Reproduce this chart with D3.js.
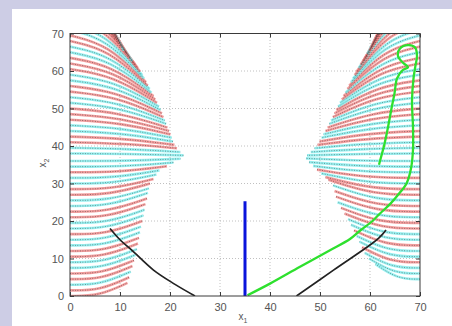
<!DOCTYPE html>
<html>
<head>
<meta charset="utf-8">
<script src="https://cdn.jsdelivr.net/npm/d3@7"></script>
<style>
  html, body { margin: 0; padding: 0; background: #cdcde5; }
  svg { display: block; }
</style>
</head>
<body>
<div id="chart"></div>
<script>
const xTicks = [0, 10, 20, 30, 40, 50, 60, 70];
const yTicks = [0, 10, 20, 30, 40, 50, 60, 70];

// each row: [start height on the axis, end x, end y, set]
const leftUpper = [
  [38, 22.7, 37.5, 'c'], [39.5, 22.05, 38.4, 'c'], [41, 21.4, 39.4, 'r'], [42.5, 20.9, 40.3, 'r'],
  [44, 20.6, 41.2, 'c'], [45.5, 20.35, 42.2, 'c'], [47, 20.1, 43.1, 'r'], [48.5, 19.8, 44.0, 'r'],
  [50, 19.5, 44.9, 'r'], [51.5, 19.25, 45.9, 'c'], [53, 18.95, 46.8, 'c'], [54.5, 18.7, 47.7, 'r'],
  [56, 18.4, 48.7, 'r'], [57.5, 18.1, 49.6, 'c'], [59, 17.8, 50.5, 'c'], [60.5, 17.4, 51.5, 'r'],
  [62, 17.05, 52.4, 'r'], [63.5, 16.7, 53.3, 'r'], [65, 16.3, 54.2, 'c'], [66.5, 15.95, 55.2, 'c'],
  [68, 15.55, 56.1, 'r'], [69.5, 15.2, 57.0, 'r'], [71, 14.8, 58.0, 'c'], [72.5, 14.45, 58.9, 'c'],
  [74, 14.05, 59.8, 'r'], [75.5, 13.55, 60.8, 'r'], [77, 13.0, 61.7, 'r'], [78.5, 12.45, 62.6, 'c'],
  [80, 11.9, 63.5, 'r'], [81.5, 11.3, 64.5, 'r'], [83, 10.75, 65.4, 'c'], [84.5, 10.2, 66.3, 'r'],
  [86, 9.65, 67.3, 'r'], [87.5, 9.1, 68.2, 'r'], [89, 8.55, 69.1, 'r'], [90.5, 7.95, 70.1, 'r']
];
const leftLower = [
  [0, 11.5, 3.5, 'r'], [1.5, 11.85, 5, 'r'], [3, 12.15, 6.5, 'c'], [4.5, 12.5, 8, 'r'],
  [6, 12.8, 9.5, 'r'], [7.5, 13.1, 11, 'c'], [9, 13.4, 12.5, 'c'], [10.5, 13.6, 14, 'r'],
  [12, 13.8, 15.5, 'r'], [13.5, 14.0, 17, 'c'], [15, 14.2, 18.5, 'c'], [16.5, 14.45, 20, 'r'],
  [18, 14.7, 21.5, 'c'], [19.5, 14.9, 23, 'c'], [21, 15.1, 24.5, 'r'], [22.5, 15.4, 26, 'r'],
  [24, 15.6, 27.5, 'c'], [25.5, 15.8, 28.7, 'c'], [27, 16.0, 30, 'r'], [28.5, 16.7, 31.2, 'r'],
  [30, 17.3, 32.4, 'c'], [31.5, 17.9, 33.5, 'c'], [33, 19.4, 34.6, 'r'], [34.5, 20.7, 35.6, 'c'],
  [36, 22.1, 36.6, 'c']
];
const rightUpper = [
  [38, 47.4, 37.5, 'c'], [39.5, 48.15, 38.4, 'c'], [41, 48.9, 39.4, 'c'], [42.5, 49.5, 40.3, 'r'],
  [44, 49.9, 41.2, 'r'], [45.5, 50.3, 42.2, 'c'], [47, 50.7, 43.1, 'c'], [48.5, 51.1, 44.0, 'r'],
  [50, 51.5, 44.9, 'r'], [51.5, 51.85, 45.9, 'c'], [53, 52.2, 46.8, 'c'], [54.5, 52.55, 47.7, 'r'],
  [56, 52.9, 48.7, 'r'], [57.5, 53.25, 49.6, 'r'], [59, 53.6, 50.5, 'c'], [60.5, 54.0, 51.5, 'c'],
  [62, 54.35, 52.4, 'r'], [63.5, 54.7, 53.3, 'r'], [65, 55.1, 54.2, 'c'], [66.5, 55.5, 55.2, 'r'],
  [68, 55.85, 56.1, 'r'], [69.5, 56.2, 57.0, 'c'], [71, 56.6, 58.0, 'c'], [72.5, 56.95, 58.9, 'r'],
  [74, 57.3, 59.8, 'r'], [75.5, 57.75, 60.8, 'c'], [77, 58.15, 61.7, 'r'], [78.5, 58.6, 62.6, 'r'],
  [80, 59.05, 63.5, 'r'], [81.5, 59.45, 64.5, 'c'], [83, 59.9, 65.4, 'r'], [84.5, 60.3, 66.3, 'r'],
  [86, 60.75, 67.3, 'r'], [87.5, 61.15, 68.2, 'r'], [89, 61.6, 69.1, 'r'], [90.5, 62.0, 70.1, 'r']
];
const rightLower = [
  [4.5, 61.1, 8.5, 'c'], [6, 59.8, 10, 'c'], [7.5, 58.95, 11.5, 'c'], [9, 58.4, 13, 'r'],
  [10.5, 57.9, 14.5, 'c'], [12, 57.35, 16, 'c'], [13.5, 56.8, 17.5, 'r'], [15, 56.2, 19, 'c'],
  [16.5, 55.6, 20.5, 'c'], [18, 54.9, 22, 'r'], [19.5, 54.2, 23.5, 'r'], [21, 53.5, 25, 'c'],
  [22.5, 53.2, 26.5, 'r'], [24, 52.9, 28, 'r'], [25.5, 52.6, 29.5, 'c'], [27, 51.7, 31, 'r'],
  [28.5, 51.1, 31.7, 'r'], [30, 50.25, 32.7, 'c'], [31.5, 49.4, 33.7, 'r'], [33, 48.6, 34.7, 'c'],
  [34.5, 47.8, 35.7, 'c'], [36, 47.2, 36.7, 'c']
];

const blackLeft = [[8, 18], [10, 15], [12.3, 12.3], [16.7, 6.9], [21, 3.1], [25, 0]];
const blackRight = [[45.3, 0], [52.7, 6.9], [60, 13.6], [61.8, 15.5], [63.2, 17.6]];
const blueLine = [[35, 0], [35, 25.3]];
const greenPath = [
  [35.5, 0.2], [40, 3.3], [46, 7.8], [52, 12.2], [56, 15.2], [58, 17.4], [60.5, 20], [62, 22],
  [64, 24.5], [65.5, 26.8], [67.3, 30], [68.2, 34], [68.6, 39], [68.6, 45], [68.4, 52], [68.7, 58],
  [69.1, 61.5], [69.4, 64], [69, 66.3], [67.6, 66.9], [66, 66], [65.6, 64], [66.6, 62.2],
  [67.6, 61], [66.5, 60.2], [65.4, 58], [64.9, 54], [64.3, 50], [63.6, 45], [62.8, 40],
  [62.2, 37], [61.8, 35]
];

const W = 452, H = 326;
const x = d3.scaleLinear().domain([0, 70]).range([70, 420]);
const y = d3.scaleLinear().domain([0, 70]).range([296, 33.5]);

const svg = d3.select('#chart').append('svg').attr('width', W).attr('height', H);

svg.append('rect')
  .attr('x', 12).attr('y', 9)
  .attr('width', W - 12).attr('height', H - 9)
  .attr('fill', '#fff');

svg.append('defs').append('clipPath').attr('id', 'plot')
  .append('rect')
  .attr('x', x(0)).attr('y', y(70))
  .attr('width', x(70) - x(0)).attr('height', y(0) - y(70));

// grid
const grid = svg.append('g')
  .attr('stroke', '#b0b0b0').attr('stroke-width', 0.8).attr('stroke-dasharray', '1,2');
grid.selectAll('.gx').data(xTicks.slice(1, -1)).enter().append('line')
  .attr('x1', d => x(d)).attr('x2', d => x(d)).attr('y1', y(0)).attr('y2', y(70));
grid.selectAll('.gy').data(yTicks.slice(1, -1)).enter().append('line')
  .attr('y1', d => y(d)).attr('y2', d => y(d)).attr('x1', x(0)).attr('x2', x(70));

// trajectory families
const color = d3.scaleOrdinal().domain(['r', 'c']).range(['#f07a7a', '#72ecec']);
const arc = d3.line().x(d => x(d[0])).y(d => y(d[1])).curve(d3.curveBasis);
const families = [
  { x0: 0, lead: 0.2, rows: leftUpper }, { x0: 0, lead: 0, rows: leftLower },
  { x0: 70, lead: 0.2, rows: rightUpper }, { x0: 70, lead: 0, rows: rightLower }
];
const arcPoints = (f, d) => [
  [f.x0, d[0]],
  [(f.x0 + d[1]) / 2, d[0] + (d[2] - d[0]) * f.lead],
  [d[1], d[2]]
];

const marks = svg.append('g').attr('clip-path', 'url(#plot)');
families.forEach(f => {
  marks.append('g').selectAll('path').data(f.rows).enter().append('path')
    .attr('d', d => arc(arcPoints(f, d)))
    .attr('fill', 'none')
    .attr('stroke', d => color(d[3]))
    .attr('stroke-width', 2.6)
    .attr('stroke-opacity', 0.72);
});
families.forEach(f => {
  marks.append('g').selectAll('path').data(f.rows).enter().append('path')
    .attr('d', d => arc(arcPoints(f, d)))
    .attr('fill', 'none')
    .attr('stroke', '#2a2a2a')
    .attr('stroke-width', 0.8)
    .attr('stroke-dasharray', '1,1.5')
    .attr('stroke-opacity', 0.6);
});

const line = d3.line().x(d => x(d[0])).y(d => y(d[1]));
marks.append('path').attr('d', line.curve(d3.curveCatmullRom)(blackLeft))
  .attr('fill', 'none').attr('stroke', '#222').attr('stroke-width', 1.7);
marks.append('path').attr('d', line.curve(d3.curveCatmullRom)(blackRight))
  .attr('fill', 'none').attr('stroke', '#222').attr('stroke-width', 1.7);
marks.append('path').attr('d', line.curve(d3.curveLinear)(blueLine))
  .attr('fill', 'none').attr('stroke', '#0a14dc').attr('stroke-width', 3);
marks.append('path').attr('d', line.curve(d3.curveCatmullRom)(greenPath))
  .attr('fill', 'none').attr('stroke', '#2ee02e').attr('stroke-width', 2.3)
  .attr('stroke-linejoin', 'round');

// axes box and ticks
const axisColor = '#3a3a3a';
svg.append('rect')
  .attr('x', x(0)).attr('y', y(70))
  .attr('width', x(70) - x(0)).attr('height', y(0) - y(70))
  .attr('fill', 'none').attr('stroke', axisColor).attr('stroke-width', 1);

const axisB = svg.append('g').attr('transform', `translate(0,${y(0)})`)
  .call(d3.axisBottom(x).tickValues(xTicks).tickSizeInner(-4).tickSizeOuter(0).tickPadding(7));
const axisL = svg.append('g').attr('transform', `translate(${x(0)},0)`)
  .call(d3.axisLeft(y).tickValues(yTicks).tickSizeInner(-4).tickSizeOuter(0).tickPadding(6));
const axisT = svg.append('g').attr('transform', `translate(0,${y(70)})`)
  .call(d3.axisTop(x).tickValues(xTicks).tickSizeInner(-4).tickSizeOuter(0).tickFormat(''));
const axisR = svg.append('g').attr('transform', `translate(${x(70)},0)`)
  .call(d3.axisRight(y).tickValues(yTicks).tickSizeInner(-4).tickSizeOuter(0).tickFormat(''));

[axisB, axisL, axisT, axisR].forEach(g => {
  g.select('.domain').remove();
  g.selectAll('line').attr('stroke', axisColor);
  g.selectAll('text')
    .attr('fill', '#555')
    .style('font-family', '"Liberation Sans", Arial, sans-serif')
    .style('font-size', '11px');
});

// axis labels
const xl = svg.append('text')
  .attr('x', 243).attr('y', 320)
  .attr('text-anchor', 'middle')
  .attr('fill', '#555')
  .style('font-family', '"Liberation Sans", Arial, sans-serif')
  .style('font-size', '10px');
xl.append('tspan').text('x');
xl.append('tspan').attr('dy', 3).style('font-size', '7px').text('1');

const yl = svg.append('text')
  .attr('transform', `translate(46,163) rotate(-90)`)
  .attr('text-anchor', 'middle')
  .attr('fill', '#555')
  .style('font-family', '"Liberation Sans", Arial, sans-serif')
  .style('font-size', '10px');
yl.append('tspan').text('x');
yl.append('tspan').attr('dy', 3).style('font-size', '7px').text('2');
</script>
</body>
</html>
